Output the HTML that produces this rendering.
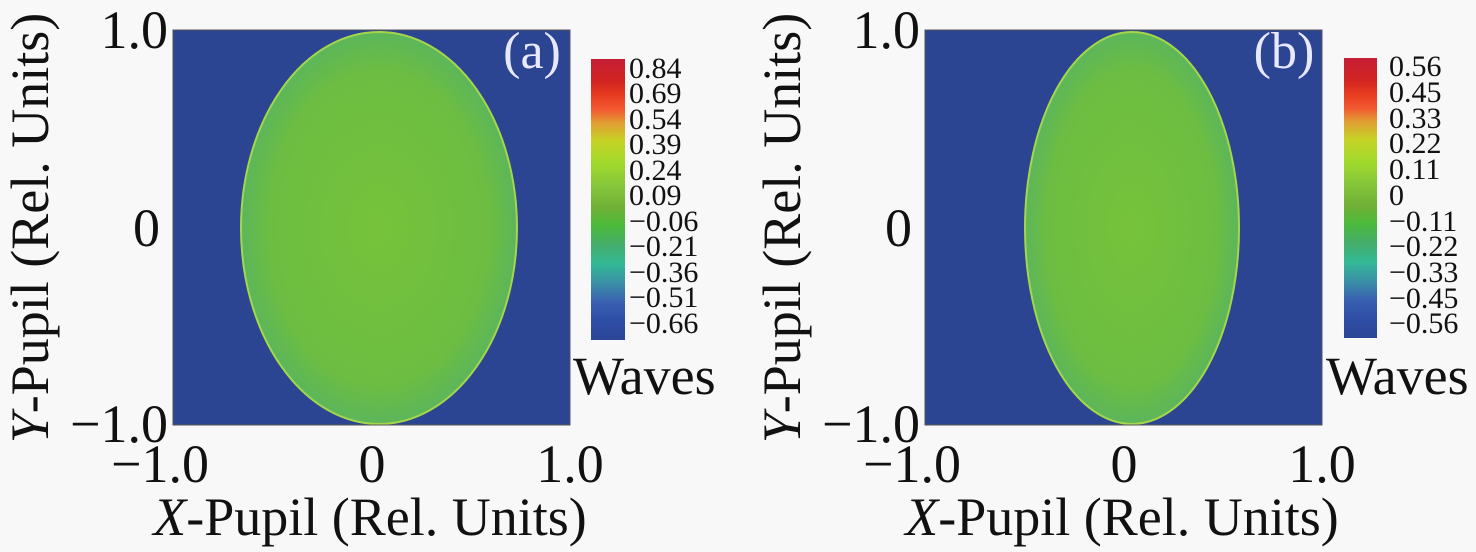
<!DOCTYPE html>
<html><head><meta charset="utf-8"><style>html,body{margin:0;padding:0;background:#f8f8f8}svg{display:block}</style></head>
<body>
<svg width="1476" height="552" viewBox="0 0 1476 552" xmlns="http://www.w3.org/2000/svg" fill="#111" style="font-family:'Liberation Serif','Times New Roman',Times,serif">
<defs>
<linearGradient id="cb" x1="0" y1="1" x2="0" y2="0">
<stop offset="0" stop-color="#2b4596"/><stop offset="0.07" stop-color="#2f4ea6"/>
<stop offset="0.14" stop-color="#3a62b2"/><stop offset="0.2" stop-color="#3a8ea6"/>
<stop offset="0.27" stop-color="#33b897"/><stop offset="0.34" stop-color="#45ad6a"/>
<stop offset="0.41" stop-color="#4cba3a"/><stop offset="0.47" stop-color="#6fb036"/>
<stop offset="0.55" stop-color="#86c63a"/><stop offset="0.63" stop-color="#a2da2c"/>
<stop offset="0.71" stop-color="#c6d226"/><stop offset="0.77" stop-color="#e0a032"/>
<stop offset="0.82" stop-color="#f25a32"/><stop offset="0.87" stop-color="#e83c20"/>
<stop offset="0.92" stop-color="#d22420"/><stop offset="1" stop-color="#c41e36"/>
</linearGradient>
<radialGradient id="ell" cx="0.5" cy="0.5" r="0.5">
<stop offset="0" stop-color="#76c23a"/><stop offset="0.8" stop-color="#6cbd42"/><stop offset="1" stop-color="#5cb65a"/>
</radialGradient>
</defs>
<rect x="173" y="30" width="397" height="395" fill="#2b4592"/>
<ellipse cx="379" cy="228" rx="138" ry="196" fill="url(#ell)" stroke="#a6d64a" stroke-width="2"/>
<rect x="173" y="30" width="397" height="395" fill="none" stroke="#555" stroke-width="1"/>
<rect x="925" y="30" width="397" height="395" fill="#2b4592"/>
<ellipse cx="1132" cy="228" rx="107" ry="196" fill="url(#ell)" stroke="#a6d64a" stroke-width="2"/>
<rect x="925" y="30" width="397" height="395" fill="none" stroke="#555" stroke-width="1"/>
<rect x="591" y="59" width="34" height="281" fill="url(#cb)"/>
<rect x="1344" y="58" width="33" height="280" fill="url(#cb)"/>
<g font-family="Liberation Serif, serif">
<text x="532" y="68" font-size="52" fill="#e8e8ff" text-anchor="middle">(a)</text>
<g font-size="30">
<text x="629" y="78">0.84</text><text x="629" y="103">0.69</text><text x="629" y="129">0.54</text>
<text x="629" y="154">0.39</text><text x="629" y="180">0.24</text><text x="629" y="205">0.09</text>
<text x="629" y="231">−0.06</text><text x="629" y="256">−0.21</text><text x="629" y="282">−0.36</text>
<text x="629" y="307">−0.51</text><text x="629" y="333">−0.66</text>
</g>
<text x="573" y="394" font-size="54">Waves</text>
<g font-size="54" text-anchor="end">
<text x="168" y="48">1.0</text><text x="160" y="246">0</text><text x="168" y="442">−1.0</text>
</g>
<g font-size="54" text-anchor="middle">
<text x="160" y="482">−1.0</text><text x="372" y="482">0</text><text x="570" y="482">1.0</text>
</g>
<text x="370" y="535" font-size="54" text-anchor="middle"><tspan font-style="italic">X</tspan>-Pupil (Rel. Units)</text>
<text transform="translate(48,228) rotate(-90)" font-size="54" text-anchor="middle"><tspan font-style="italic">Y</tspan>-Pupil (Rel. Units)</text>

<text x="1284" y="68" font-size="52" fill="#e8e8ff" text-anchor="middle">(b)</text>
<g font-size="30">
<text x="1389" y="76">0.56</text><text x="1389" y="102">0.45</text><text x="1389" y="128">0.33</text>
<text x="1389" y="153">0.22</text><text x="1389" y="179">0.11</text><text x="1389" y="205">0</text>
<text x="1389" y="231">−0.11</text><text x="1389" y="256">−0.22</text><text x="1389" y="282">−0.33</text>
<text x="1389" y="308">−0.45</text><text x="1389" y="333">−0.56</text>
</g>
<text x="1326" y="394" font-size="54">Waves</text>
<g font-size="54" text-anchor="end">
<text x="920" y="48">1.0</text><text x="912" y="246">0</text><text x="920" y="442">−1.0</text>
</g>
<g font-size="54" text-anchor="middle">
<text x="912" y="482">−1.0</text><text x="1124" y="482">0</text><text x="1322" y="482">1.0</text>
</g>
<text x="1122" y="535" font-size="54" text-anchor="middle"><tspan font-style="italic">X</tspan>-Pupil (Rel. Units)</text>
<text transform="translate(800,228) rotate(-90)" font-size="54" text-anchor="middle"><tspan font-style="italic">Y</tspan>-Pupil (Rel. Units)</text>
</g>
</svg>
</body></html>
